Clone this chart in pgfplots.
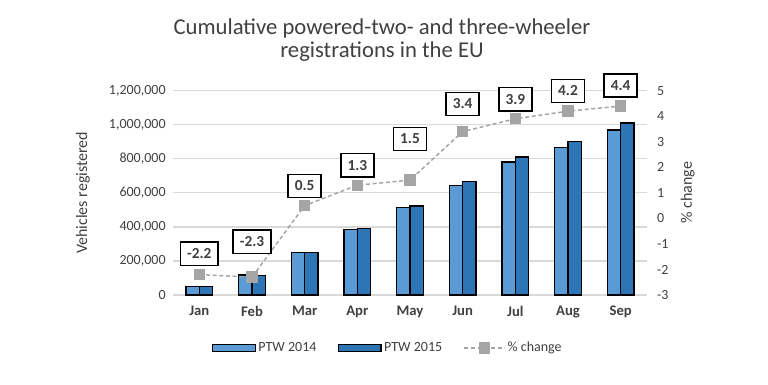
\documentclass[border=0pt]{standalone}
\usepackage{fontspec}
\setmainfont{Carlito}
\usepackage{pgfplots}
\pgfplotsset{compat=1.18}
\definecolor{c14}{RGB}{91,155,213}
\definecolor{c15}{RGB}{46,117,182}
\definecolor{cg}{RGB}{165,165,165}
\definecolor{gridc}{RGB}{217,217,217}
\definecolor{txt}{RGB}{64,64,64}
\pgfplotsset{
  barleg/.style={legend image code/.code={\draw[##1] (0pt,-2.5pt) rectangle (32pt,2.5pt);}},
  lineleg/.style={legend image code/.code={\draw[##1] (0pt,0pt) -- (30pt,0pt); \draw[##1, mark options={solid}] plot coordinates {(15pt,0pt)};}},
}
\begin{document}
\begin{tikzpicture}[x=0.75pt,y=0.75pt]
\path[use as bounding box] (-173,-90) rectangle (595,295);
\node[font=\fontsize{17}{19}\selectfont, text=txt] at (209,267) {Cumulative powered-two- and three-wheeler};
\node[font=\fontsize{17}{19}\selectfont, text=txt] at (209,243) {registrations in the EU};
\begin{axis}[at={(0,0)}, anchor=south west, scale only axis,
  width=355.5pt, height=153.2pt,
  ybar=0pt, bar width=10pt,
  xmin=-0.5, xmax=8.5, ymin=0, ymax=1200000,
  xtick={0,...,8},
  xticklabels={Jan,Feb,Mar,Apr,May,Jun,Jul,Aug,Sep},
  xticklabel style={font=\bfseries\fontsize{11}{13}\selectfont, text=txt, yshift=-5pt},
  ytick={0,200000,...,1200000},
  scaled y ticks=false,
  /pgf/number format/.cd, fixed, 1000 sep={,}, assume math mode=true,
  /pgfplots/.cd,
  yticklabel style={font=\fontsize{10.5}{13}\selectfont, text=txt, xshift=-2pt},
  ymajorgrids, grid style={gridc, line width=0.9pt},
  axis line style={draw=none}, major tick length=0pt,
  ylabel={Vehicles registered},
  ylabel style={at={(axis description cs:-0.19,0.5)}, anchor=center, font=\fontsize{12}{14}\selectfont, text=txt},
  clip=false,
]
\addplot[fill=c14, draw=black, line width=0.9pt] coordinates {
(0,52000) (1,117000) (2,250000) (3,386000) (4,515000) (5,644000) (6,781000) (7,867000) (8,969000)};
\addplot[fill=c15, draw=black, line width=0.9pt] coordinates {
(0,51000) (1,114000) (2,252000) (3,391000) (4,523000) (5,666000) (6,811000) (7,903000) (8,1011000)};
\end{axis}
\begin{axis}[at={(0,0)}, anchor=south west, scale only axis,
  width=355.5pt, height=153.2pt,
  xmin=-0.5, xmax=8.5, ymin=-3, ymax=5,
  ytick={-3,...,5},
  axis y line*=right, axis x line=none,
  axis line style={draw=none}, major tick length=0pt,
  /pgf/number format/assume math mode=true,
  yticklabel style={font=\fontsize{10.5}{13}\selectfont, text=txt, xshift=4pt},
  ylabel={\% change},
  ylabel style={at={(axis description cs:1.086,0.5)}, anchor=center, font=\fontsize{12}{14}\selectfont, text=txt},
  clip=false,
  legend style={at={(0.454,-0.26)}, anchor=center, draw=none, legend columns=3,
    font=\fontsize{10.5}{12}\selectfont, text=txt,
    /tikz/every even column/.append style={column sep=14pt}},
]
\addlegendimage{fill=c14, draw=black, line width=0.8pt, barleg}
\addlegendentry{PTW 2014}
\addlegendimage{fill=c15, draw=black, line width=0.8pt, barleg}
\addlegendentry{PTW 2015}
\addplot[cg, line width=1.1pt, dash pattern=on 3pt off 2pt, mark=square*, mark size=3.7pt,
  mark options={solid, fill=cg, draw=cg}, lineleg] coordinates {
(0,-2.2) (1,-2.3) (2,0.5) (3,1.3) (4,1.5) (5,3.4) (6,3.9) (7,4.2) (8,4.4)};
\addlegendentry{\% change}
\addplot[draw=none, mark=none, nodes near coords, point meta=explicit symbolic,
  every node near coord/.append style={anchor=center, draw=black, fill=white, line width=1.2pt,
    font=\bfseries\fontsize{11.5}{13}\selectfont, text=txt, inner xsep=5pt, minimum height=17.5pt}]
coordinates {
(0,-1.39) [-2.2] (1,-0.92) [-2.3] (2,1.27) [0.5] (3,2.09) [1.3] (4,3.11) [1.5]
(5,4.48) [3.4] (6,4.67) [3.9] (7,4.99) [4.2] (8,5.2) [4.4]};
\end{axis}
\end{tikzpicture}
\end{document}
